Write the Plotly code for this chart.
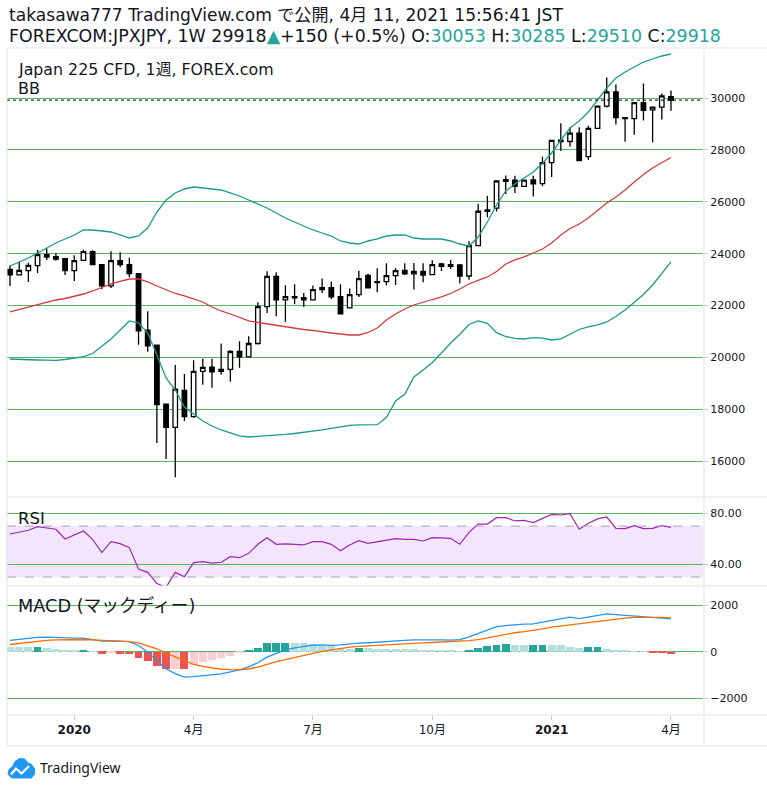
import pandas as pd
import plotly.graph_objects as go

# ---------------- data ----------------
dates = pd.date_range("2019-11-18", periods=73, freq="W-MON")

opens = [23397,23180,23346,23539,23962,23885,23808,23346,23744,24077,
         23577,22757,23731,23577,23231,21052,20475,18205,17308,18731,
         17718,19461,19628,19461,19538,20230,20026,20539,21962,23128,
         22218,22346,22308,22218,22616,22692,22346,21910,22423,23166,
         22923,22923,23154,23359,23218,23320,23192,23602,23577,23564,
         23140,24311,25688,25752,26857,26831,26597,26844,26701,27506,
         28376,28324,28649,27740,28831,29688,30234,29247,29208,29818,
         29546,29650,30053]
highs = [23551,23680,23654,24141,24205,24013,23846,23936,24154,24128,
         23590,24090,24051,23846,23240,21782,20480,18210,19706,19359,
         19897,19949,19949,20538,20282,20628,20820,22129,23321,23282,
         22782,22821,22487,22769,23039,22923,22821,22654,23346,23230,
         23435,23628,23448,23628,23641,23628,23743,23653,23756,23600,
         24480,25921,26233,26820,27012,26999,26845,26999,27740,28370,
         29026,28870,28870,28935,29700,30793,30520,29260,29830,30559,
         29650,30169,30285]
lows = [22757,23160,22911,23257,23757,23731,23180,22949,23718,23560,
        22629,22680,23474,23090,20488,20218,16706,16090,15385,17551,
        17680,18949,18833,19346,19064,19602,19999,20500,21718,21590,
        21372,22052,21949,22205,22487,22257,21670,21885,22333,22654,
        22512,22782,22795,23179,22615,22897,23179,23333,23410,22855,
        22999,24300,25402,25623,26298,26337,26585,26207,26597,26960,
        27961,28117,27584,27610,28820,29636,28974,28312,28584,29130,
        28286,29169,29510]
closes = [23180,23359,23551,23962,23872,23795,23346,23731,24077,23577,
          22757,23731,23577,23231,21026,20449,18180,17308,18782,17718,
          19461,19615,19448,19538,20230,20026,20538,21962,23128,22218,
          22346,22295,22218,22616,22692,22333,21680,22423,23038,22679,
          22885,23154,23346,23218,23320,23179,23577,23512,23512,23140,
          24311,25636,25636,26805,26792,26597,26831,26688,27506,28363,
          28324,28649,27584,28831,29688,30234,29247,29208,29818,29520,
          29650,30078,29918]

bb_upper = [23525,23680,23834,24026,24219,24412,24566,24720,24913,24913,
            24874,24836,24720,24604,24681,24990,25606,26069,26339,26493,
            26570,26531,26493,26454,26339,26223,26069,25915,25761,25568,
            25375,25221,25067,24913,24797,24681,24489,24412,24373,24489,
            24566,24681,24720,24720,24604,24566,24566,24566,24489,24373,
            24296,24643,25221,25876,26416,26686,26917,27148,27476,27880,
            28381,28844,29114,29460,29923,30385,30771,31002,31195,31387,
            31503,31619,31696]
bb_basis = [21753,21849,21945,22042,22138,22215,22273,22350,22446,22562,
            22697,22832,22928,23024,23024,22909,22755,22600,22465,22369,
            22253,22138,21945,21791,21675,21540,21406,21348,21290,21232,
            21175,21136,21078,21040,20982,20943,20905,20866,20866,20963,
            21136,21444,21675,21868,22022,22138,22234,22331,22465,22639,
            22832,22967,23102,23314,23603,23757,23874,24026,24180,24412,
            24720,24971,25144,25375,25683,25953,26185,26454,26763,27052,
            27302,27514,27707]
bb_lower = [19941,19922,19910,19903,19895,19891,19922,19980,20030,20153,
            20442,20712,21059,21406,21329,20943,20095,19209,18746,18091,
            17821,17551,17359,17205,17089,16974,16935,16954,16974,17001,
            17032,17070,17109,17147,17205,17263,17321,17379,17398,17398,
            17409,17687,18323,18581,19248,19517,19806,20172,20558,20893,
            21271,21406,21316,20955,20808,20739,20712,20762,20743,20674,
            20720,20893,21078,21175,21252,21367,21579,21829,22118,22426,
            22793,23255,23686]

rsi = [63.8,65.5,66.7,69.5,68.5,67.5,59.9,63.0,66.1,59.6,
       49.2,57.8,56.2,53.1,36.3,33.7,25.0,22.0,33.7,30.3,
       41.3,42.1,41.0,41.6,46.0,45.2,48.6,55.7,60.9,55.7,
       56.0,55.7,55.2,57.8,57.8,55.7,50.7,55.2,58.6,56.5,
       57.8,59.1,60.1,59.6,59.6,58.3,60.9,60.7,60.4,55.7,
       65.1,71.6,71.6,76.6,76.6,74.0,74.5,72.7,76.1,79.2,
       78.7,79.7,67.5,72.2,75.6,77.1,68.2,68.0,70.3,68.0,
       68.2,70.3,69.0]

macd_hist = [200,200,195,210,150,110,70,55,70,10,
             -80,-50,-80,-110,-270,-400,-610,-740,-720,-760,
             -580,-440,-360,-270,-160,-70,60,170,360,390,
             400,390,370,340,270,230,170,140,175,150,
             130,125,115,100,100,90,85,70,55,30,
             60,170,240,310,340,310,290,295,300,280,
             275,200,160,190,215,130,85,40,15,5,
             -60,-65,-100]
macd_line = [490,540,590,620,630,610,590,585,590,530,
             460,470,460,440,270,-15,-370,-730,-940,-1090,
             -1070,-1040,-1010,-950,-860,-780,-650,-470,-230,-60,
             85,170,230,285,300,275,300,350,375,390,
             400,440,470,500,515,515,530,515,505,520,
             640,790,960,1080,1130,1170,1190,1200,1270,1370,
             1440,1490,1430,1500,1570,1630,1600,1570,1550,1520,
             1490,1460,1420]
macd_signal = [315,365,415,455,490,510,525,530,530,515,
               495,480,465,440,385,270,130,-60,-230,-400,
               -540,-630,-700,-750,-770,-775,-740,-660,-540,-420,
               -340,-260,-170,-70,20,90,150,200,235,260,
               285,310,330,350,370,385,400,415,430,450,
               480,520,600,690,770,820,870,915,990,1060,
               1110,1160,1210,1250,1300,1360,1400,1450,1480,1490,
               1495,1480,1460]

price_ticks = [16000, 18000, 20000, 22000, 24000, 26000, 28000, 30000]
price_labels = [str(v) for v in price_ticks]
rsi_ticks = [40, 80]
rsi_labels = ["40.00", "80.00"]
macd_ticks = [-2000, 0, 2000]
macd_labels = ["\u22122000", "0", "2000"]
time_ticks = ["2020-01-06", "2020-04-06", "2020-07-06", "2020-10-05", "2021-01-04", "2021-04-05"]
time_labels = ["<b>2020</b>", "4月", "7月", "10月", "<b>2021</b>", "4月"]
last_close = 29918

# ---------------- layout helpers ----------------
W, H = 767, 787
L, R, T, B = 7, 703, 48, 715


def px(x):
    return (x - L) / (R - L)


def py(y):
    return (B - y) / (B - T)


GRID = "#58b65c"
BORDER = "#e0e3eb"
TEXT = "#131722"
FONT = "DejaVu Sans, Noto Sans CJK JP, sans-serif"

hist_colors = []
for i, h in enumerate(macd_hist):
    prev = macd_hist[i - 1] if i > 0 else h + 1
    if h >= 0:
        hist_colors.append("#26a69a" if h > prev else "#b2dfdb")
    else:
        hist_colors.append("#ef5350" if h < prev else "#ffcdd2")

fig = go.Figure()

fig.add_trace(go.Scatter(x=dates, y=bb_upper, mode="lines", line=dict(color="#1a9a8c", width=1.3),
                         xaxis="x", yaxis="y", hoverinfo="skip"))
fig.add_trace(go.Scatter(x=dates, y=bb_lower, mode="lines", line=dict(color="#1a9a8c", width=1.3),
                         xaxis="x", yaxis="y", hoverinfo="skip"))
fig.add_trace(go.Scatter(x=dates, y=bb_basis, mode="lines", line=dict(color="#d23c3c", width=1.3),
                         xaxis="x", yaxis="y", hoverinfo="skip"))
fig.add_trace(go.Candlestick(
    x=dates, open=opens, high=highs, low=lows, close=closes,
    increasing=dict(line=dict(color="#000000", width=1.3), fillcolor="#ffffff"),
    decreasing=dict(line=dict(color="#000000", width=1.3), fillcolor="#000000"),
    whiskerwidth=0, xaxis="x", yaxis="y"))

fig.add_trace(go.Scatter(x=dates, y=rsi, mode="lines", line=dict(color="#9c27b0", width=1.2),
                         xaxis="x", yaxis="y2", hoverinfo="skip"))

fig.add_trace(go.Bar(x=dates, y=macd_hist, marker=dict(color=hist_colors, line=dict(width=0)),
                     width=6 * 86400000, xaxis="x", yaxis="y3"))
fig.add_trace(go.Scatter(x=dates, y=macd_line, mode="lines", line=dict(color="#2196f3", width=1.3),
                         xaxis="x", yaxis="y3", hoverinfo="skip"))
fig.add_trace(go.Scatter(x=dates, y=macd_signal, mode="lines", line=dict(color="#ff6d00", width=1.3),
                         xaxis="x", yaxis="y3", hoverinfo="skip"))

d_main = [py(497), 1]
d_rsi = [py(586), py(497)]
d_macd = [0, py(586)]

axis_common = dict(side="right", showline=False, zeroline=False, showgrid=True, gridcolor=GRID,
                   gridwidth=1, ticks="outside", ticklen=4, tickcolor="#c8cbd3",
                   tickfont=dict(size=11, color=TEXT, family=FONT), fixedrange=True)

shapes = []
# RSI band
shapes.append(dict(type="rect", xref="paper", yref="y2", x0=0, x1=1, y0=30, y1=70,
                   fillcolor="#f3e5fb", line=dict(width=0), layer="below"))
for lv in (30, 70):
    shapes.append(dict(type="line", xref="paper", yref="y2", x0=0, x1=1, y0=lv, y1=lv,
                       line=dict(color="#a9a3b8", width=1, dash="dash")))
# last price dotted line
shapes.append(dict(type="line", xref="paper", yref="y", x0=0, x1=1, y0=last_close, y1=last_close,
                   line=dict(color="#000000", width=1, dash="dot")))
# borders
for yy in (T, 497, 586, B, 746):
    shapes.append(dict(type="line", xref="paper", yref="paper", x0=px(L), x1=px(767),
                       y0=py(yy), y1=py(yy), line=dict(color=BORDER, width=1)))
for xx in (L, R + 1):
    shapes.append(dict(type="line", xref="paper", yref="paper", x0=px(xx), x1=px(xx),
                       y0=py(T), y1=py(746), line=dict(color=BORDER, width=1)))

# TradingView logo (cloud)
cloud = [(8, 774), (9, 769.5), (12.5, 766.5), (15, 761.5), (19.5, 758.5), (24.5, 759), (28, 763),
         (31.5, 764.5), (34.5, 768.5), (34.5, 774), (31.5, 778), (11.5, 778)]
path = "M " + " L ".join(f"{px(a):.5f},{py(b):.5f}" for a, b in cloud) + " Z"
shapes.append(dict(type="path", xref="paper", yref="paper", path=path,
                   fillcolor="#2196f3", line=dict(color="#2196f3", width=1)))
zig = [(11, 774.5), (16, 768.5), (21.5, 773.5), (29, 766)]
zpath = "M " + " L ".join(f"{px(a):.5f},{py(b):.5f}" for a, b in zig)
shapes.append(dict(type="path", xref="paper", yref="paper", path=zpath,
                   line=dict(color="#ffffff", width=2.2)))

header2 = ("FOREXCOM:JPXJPY, 1W 29918<span style='color:#26a69a'>▲</span>+150 (+0.5%) "
           "O:<span style='color:#26a69a'>30053</span> H:<span style='color:#26a69a'>30285</span> "
           "L:<span style='color:#26a69a'>29510</span> C:<span style='color:#26a69a'>29918</span>")

annotations = [
    dict(text="takasawa777 TradingView.com で公開, 4月 11, 2021 15:56:41 JST", x=px(7), y=py(15), size=17.1),
    dict(text=header2, x=px(7), y=py(36), size=17.4),
    dict(text="Japan 225 CFD, 1週, FOREX.com", x=px(16), y=py(70), size=15.8),
    dict(text="BB", x=px(16), y=py(88), size=16),
    dict(text="RSI", x=px(16), y=py(518), size=16.5),
    dict(text="MACD (マックディー)", x=px(16), y=py(606), size=17.7),
    dict(text="TradingView", x=px(38), y=py(767), size=14, family="Noto Sans, sans-serif"),
]
ann = []
for a in annotations:
    ann.append(dict(text=a["text"], x=a["x"], y=a["y"], xref="paper", yref="paper",
                    xanchor="left", yanchor="middle", showarrow=False,
                    font=dict(size=a.get("size", 17), color=TEXT, family=a.get("family", FONT))))

fig.update_layout(
    width=W, height=H,
    margin=dict(l=L, r=W - R, t=T, b=H - B),
    paper_bgcolor="#ffffff", plot_bgcolor="#ffffff",
    font=dict(family=FONT, color=TEXT),
    showlegend=False,
    bargap=0,
    xaxis=dict(type="date", range=["2019-11-15 17:00", "2021-04-29 10:00"],
               tickvals=time_ticks, ticktext=time_labels, showgrid=False, zeroline=False,
               showline=False, ticks="outside", ticklen=4, tickcolor="#c8cbd3",
               tickfont=dict(size=12, color=TEXT, family=FONT), anchor="y3",
               rangeslider=dict(visible=False), fixedrange=True),
    yaxis=dict(domain=d_main, range=[14622, 31927], tickvals=price_ticks, ticktext=price_labels,
               anchor="x", **axis_common),
    yaxis2=dict(domain=d_rsi, range=[23.0, 92.8], tickvals=rsi_ticks, ticktext=rsi_labels,
                anchor="x", **axis_common),
    yaxis3=dict(domain=d_macd, range=[-2718, 2830], tickvals=macd_ticks, ticktext=macd_labels,
                anchor="x", **axis_common),
    shapes=shapes,
    annotations=ann,
)

fig.write_html("out.html", config={"displayModeBar": False},
               post_script="document.body.style.margin='0';document.body.style.overflow='hidden';")
